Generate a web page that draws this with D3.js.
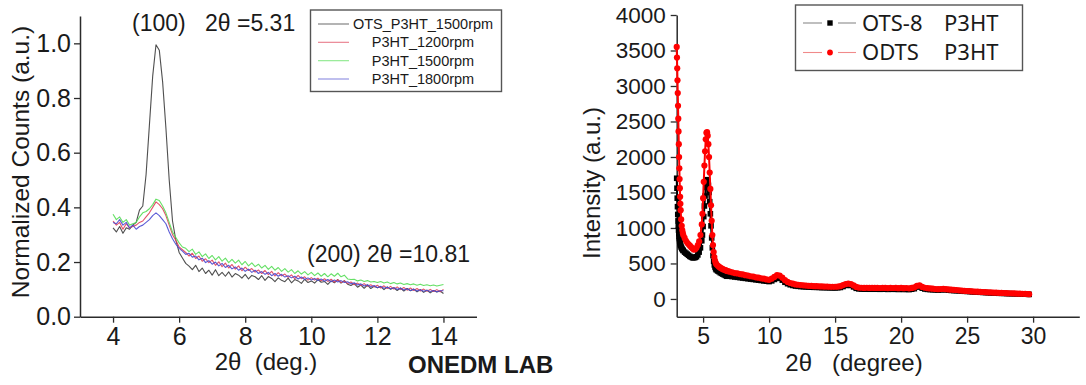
<!DOCTYPE html>
<html>
<head>
<meta charset="utf-8">
<script src="https://cdn.jsdelivr.net/npm/d3@7"></script>
<style>
  html, body { margin: 0; padding: 0; background: #fff; }
  svg { display: block; }
  text { font-family: "Liberation Sans", Arial, sans-serif; fill: #1a1a1a; }
</style>
</head>
<body>
<svg id="chart" width="1086" height="385"></svg>
<script>
// ---------------- LEFT PANEL DATA ----------------
const leftStart = 4.0, leftStep = 0.1;   // 2θ scan grid, 4.0 … 14.0
const leftSeriesNames = ["OTS_P3HT_1500rpm", "P3HT_1200rpm", "P3HT_1500rpm", "P3HT_1800rpm"];
const ots1500 = [
  0.325,0.310,0.330,0.305,0.325,0.320,0.335,0.345,0.390,0.405,
  0.520,0.700,0.880,0.995,0.975,0.860,0.690,0.500,0.350,0.280,
  0.235,0.215,0.195,0.185,0.172,0.188,0.165,0.178,0.158,0.170,
  0.152,0.172,0.150,0.162,0.148,0.164,0.145,0.158,0.152,0.141,
  0.155,0.138,0.151,0.146,0.136,0.150,0.133,0.147,0.140,0.128,
  0.142,0.133,0.128,0.141,0.124,0.136,0.131,0.122,0.137,0.125,
  0.131,0.123,0.136,0.126,0.129,0.118,0.131,0.124,0.136,0.123,
  0.132,0.119,0.114,0.121,0.108,0.116,0.104,0.116,0.103,0.111,
  0.106,0.110,0.099,0.109,0.100,0.106,0.096,0.105,0.094,0.103,
  0.095,0.101,0.091,0.099,0.089,0.097,0.087,0.096,0.090,0.094,0.085];
const p3ht1200 = [
  0.350,0.335,0.345,0.320,0.340,0.325,0.330,0.335,0.345,0.350,
  0.365,0.380,0.400,0.420,0.410,0.395,0.370,0.335,0.300,0.280,
  0.255,0.245,0.235,0.222,0.232,0.213,0.222,0.203,0.212,0.198,
  0.207,0.188,0.201,0.183,0.196,0.178,0.191,0.174,0.186,0.168,
  0.181,0.169,0.176,0.163,0.171,0.158,0.169,0.154,0.166,0.149,
  0.161,0.149,0.156,0.144,0.153,0.139,0.151,0.139,0.146,0.134,
  0.143,0.134,0.141,0.131,0.139,0.129,0.137,0.127,0.135,0.125,
  0.131,0.121,0.127,0.117,0.123,0.114,0.121,0.111,0.117,0.109,
  0.115,0.105,0.113,0.103,0.111,0.101,0.109,0.099,0.107,0.097,
  0.105,0.096,0.103,0.094,0.101,0.093,0.100,0.092,0.099,0.091,0.100];
const p3ht1500 = [
  0.375,0.355,0.365,0.345,0.355,0.335,0.340,0.345,0.365,0.380,
  0.385,0.395,0.410,0.430,0.425,0.405,0.380,0.345,0.310,0.290,
  0.270,0.255,0.250,0.238,0.247,0.228,0.237,0.220,0.230,0.213,
  0.224,0.208,0.220,0.203,0.214,0.198,0.210,0.196,0.207,0.190,
  0.202,0.186,0.197,0.183,0.192,0.178,0.188,0.173,0.184,0.170,
  0.180,0.166,0.176,0.163,0.172,0.158,0.168,0.156,0.165,0.153,
  0.162,0.150,0.160,0.148,0.158,0.146,0.157,0.148,0.159,0.146,
  0.152,0.138,0.136,0.137,0.131,0.134,0.129,0.132,0.127,0.129,
  0.125,0.129,0.123,0.127,0.121,0.125,0.120,0.123,0.118,0.121,
  0.117,0.120,0.115,0.119,0.114,0.117,0.113,0.116,0.112,0.115,0.118];
const p3ht1800 = [
  0.345,0.340,0.355,0.335,0.345,0.325,0.335,0.320,0.330,0.335,
  0.345,0.355,0.370,0.380,0.370,0.355,0.340,0.310,0.285,0.265,
  0.250,0.240,0.228,0.232,0.218,0.222,0.208,0.214,0.198,0.205,
  0.192,0.200,0.186,0.195,0.180,0.188,0.175,0.182,0.170,0.178,
  0.166,0.174,0.162,0.170,0.158,0.165,0.155,0.162,0.150,0.158,
  0.148,0.155,0.145,0.150,0.142,0.148,0.138,0.145,0.136,0.142,
  0.134,0.140,0.132,0.138,0.130,0.136,0.128,0.134,0.127,0.132,
  0.125,0.128,0.120,0.124,0.116,0.120,0.112,0.117,0.109,0.114,
  0.106,0.111,0.104,0.108,0.102,0.106,0.100,0.104,0.098,0.102,
  0.096,0.100,0.094,0.099,0.093,0.097,0.092,0.096,0.091,0.095,0.095];
const leftTicksX = [4, 6, 8, 10, 12, 14];
const leftMinorX = [3, 5, 7, 9, 11, 13, 15];
const leftTicksY = [0.0, 0.2, 0.4, 0.6, 0.8, 1.0];
const leftMinorY = [0.1, 0.3, 0.5, 0.7, 0.9, 1.1];

// ---------------- RIGHT PANEL DATA ----------------
const rightSeriesNames = ["OTS-8", "ODTS"];
const rightX = [
  3.00,3.02,3.04,3.06,3.08,3.10,3.12,3.14,3.16,3.18,3.20,3.22,3.24,3.26,3.28,3.30,3.34,3.38,3.42,3.46,3.50,
  3.6,3.7,3.8,3.9,4.0,4.1,4.2,4.3,4.4,4.5,4.6,4.7,4.8,4.9,
  4.95,5.0,5.05,5.1,5.15,5.2,5.25,5.3,5.35,5.4,5.45,5.5,5.55,5.6,5.65,5.7,5.75,5.8,5.85,5.9,5.95,6.0,
  6.1,6.2,6.3,6.4,6.5,6.6,6.7,6.8,6.9,7.0,
  7.2,7.4,7.6,7.8,8.0,8.2,8.4,8.6,8.8,9.0,9.2,9.4,9.6,9.8,10.0,10.2,10.4,10.6,10.8,11.0,
  11.2,11.4,11.6,11.8,12.0,12.2,12.4,12.6,12.8,13.0,13.2,13.4,13.6,13.8,14.0,14.2,14.4,14.6,14.8,15.0,
  15.2,15.4,15.6,15.8,16.0,16.2,16.4,16.6,16.8,17.0,17.2,17.4,17.6,17.8,18.0,18.2,18.4,18.6,18.8,19.0,
  19.2,19.4,19.6,19.8,20.0,20.2,20.4,20.6,20.8,21.0,21.2,21.4,21.6,21.8,22.0,22.2,22.4,22.6,22.8,23.0,
  23.2,23.4,23.6,23.8,24.0,24.2,24.4,24.6,24.8,25.0,25.2,25.4,25.6,25.8,26.0,26.2,26.4,26.6,26.8,27.0,
  27.2,27.4,27.6,27.8,28.0,28.2,28.4,28.6,28.8,29.0,29.2,29.4,29.6,29.7];
const odtsP3ht = [
  3550,3400,3250,3080,2900,2720,2540,2360,2180,2000,1840,1690,1560,1440,1340,1250,1120,1030,970,930,900,
  860,820,790,770,750,730,710,695,700,720,760,810,900,1050,
  1200,1420,1650,1880,2080,2250,2340,2350,2300,2180,2000,1780,1550,1320,1100,900,760,660,590,540,510,490,
  470,455,440,430,420,410,405,395,390,385,
  375,365,360,350,345,335,330,320,315,305,300,290,285,275,270,285,310,335,330,300,
  265,240,225,215,205,200,195,192,188,185,183,180,180,178,176,175,174,172,172,172,
  175,180,195,210,215,210,190,170,160,158,156,158,155,157,155,156,154,157,155,153,
  156,154,155,152,155,152,154,150,155,162,185,190,170,158,152,148,145,140,138,140,
  142,138,134,130,128,126,122,118,114,112,110,106,104,102,100,98,96,94,92,90,
  88,86,85,84,82,80,79,78,76,75,73,72,70,68];
const ots8P3ht = [
  1700,1560,1420,1300,1190,1100,1030,970,920,880,850,820,800,780,765,750,730,715,700,690,680,
  660,645,630,615,600,590,580,580,585,595,620,660,720,820,
  900,1020,1160,1310,1450,1570,1650,1680,1660,1600,1500,1370,1200,1030,860,720,610,530,480,450,425,410,
  395,385,370,360,350,340,330,320,325,320,
  315,310,305,300,295,290,285,280,275,270,265,260,255,250,245,255,275,295,290,265,
  235,215,200,190,182,178,175,172,170,168,166,164,164,162,160,160,158,158,156,156,
  158,162,175,190,195,190,170,150,142,140,138,140,137,139,137,138,136,139,137,135,
  138,136,137,134,137,134,136,132,137,145,170,172,152,140,135,132,130,128,125,128,
  132,128,124,120,118,116,114,112,108,106,104,100,98,96,94,92,90,88,86,84,
  82,80,79,78,76,75,74,73,72,70,69,68,66,64];
const rightTicksX = [5, 10, 15, 20, 25, 30];
const rightMinorX = [7.5, 12.5, 17.5, 22.5, 27.5, 32.5];
const rightTicksY = [0, 500, 1000, 1500, 2000, 2500, 3000, 3500, 4000];
const rightMinorY = [-250, 250, 750, 1250, 1750, 2250, 2750, 3250, 3750];

// ---------------- DRAWING ----------------
const svg = d3.select("#chart");
const axisColor = "#2b2b2b";

function styleAxis(g, fontSize) {
  g.select(".domain").attr("stroke", axisColor).attr("stroke-width", 1.5);
  g.selectAll(".tick line").attr("stroke", axisColor).attr("stroke-width", 1.3);
  g.selectAll(".tick text").attr("fill", "#1a1a1a")
    .style("font-size", fontSize + "px")
    .style("font-family", '"Liberation Sans", Arial, sans-serif');
}

// LEFT
const xL = d3.scaleLinear().domain([3, 15]).range([80, 476.5]);
const yL = d3.scaleLinear().domain([0, 1.1]).range([316.7, 16]);

const gLx = svg.append("g").attr("transform", `translate(0,${yL(0)})`);
gLx.call(d3.axisBottom(xL).tickValues(leftMinorX).tickFormat("").tickSize(4).tickSizeOuter(0));
gLx.call(d3.axisBottom(xL).tickValues(leftTicksX).tickFormat(d3.format("d")).tickSize(6).tickPadding(5).tickSizeOuter(0));
styleAxis(gLx, 25);

const gLy = svg.append("g").attr("transform", `translate(${xL(3)},0)`);
gLy.call(d3.axisLeft(yL).tickValues(leftMinorY).tickFormat("").tickSize(4).tickSizeOuter(0));
gLy.call(d3.axisLeft(yL).tickValues(leftTicksY).tickFormat(d3.format(".1f")).tickSize(6).tickPadding(3).tickSizeOuter(0));
styleAxis(gLy, 25);

const leftColors = ["#3c3c3c", "#e0405a", "#55dd55", "#4a4ad0"];
const leftData = [ots1500, p3ht1200, p3ht1500, p3ht1800];
const lineL = d3.line().x((d, i) => xL(leftStart + i * leftStep)).y(d => yL(d));
leftData.forEach((s, k) => {
  svg.append("path").datum(s).attr("d", lineL)
    .attr("fill", "none").attr("stroke", leftColors[k]).attr("stroke-width", 1.1)
    .attr("stroke-opacity", 0.9).attr("stroke-linejoin", "round");
});

// left labels
svg.append("text").attr("transform", `translate(20,162) rotate(-90)`)
  .attr("text-anchor", "middle").attr("dy", "0.35em").style("font-size", "24.5px")
  .text("Normalized Counts (a.u.)");
svg.append("text").attr("x", 266).attr("y", 370).attr("text-anchor", "middle")
  .style("font-size", "24px").style("white-space", "pre").text("2θ  (deg.)");
svg.append("text").attr("x", 132).attr("y", 31).style("font-size", "23px").text("(100)");
svg.append("text").attr("x", 205).attr("y", 31).style("font-size", "23px").text("2θ =5.31");
svg.append("text").attr("x", 307).attr("y", 262).style("font-size", "23px").text("(200) 2θ =10.81");
svg.append("text").attr("x", 408).attr("y", 373).style("font-size", "24px")
  .style("font-weight", "bold").text("ONEDM LAB");

// left legend
svg.append("rect").attr("x", 310.5).attr("y", 10).attr("width", 191).attr("height", 81.5)
  .attr("fill", "#fff").attr("stroke", "#555").attr("stroke-width", 1.4);
const legYL = [24, 42.3, 60.7, 79];
const legColorsL = ["#777777", "#e87a8a", "#8ae88a", "#8a8ae0"];
leftSeriesNames.forEach((name, k) => {
  svg.append("line").attr("x1", 318).attr("x2", 349).attr("y1", legYL[k]).attr("y2", legYL[k])
    .attr("stroke", legColorsL[k]).attr("stroke-width", 1.1);
  svg.append("text").attr("x", 423).attr("y", legYL[k]).attr("dy", "0.35em")
    .attr("text-anchor", "middle").style("font-size", "14.5px").text(name);
});

// RIGHT
const xR = d3.scaleLinear().domain([3, 33.5]).range([676.7, 1079.3]);
const yR = d3.scaleLinear().domain([-250, 4000]).range([316.7, 15]);

const gRx = svg.append("g").attr("transform", `translate(0,${yR(-250)})`);
gRx.call(d3.axisBottom(xR).tickValues(rightMinorX).tickFormat("").tickSize(4).tickSizeOuter(0));
gRx.call(d3.axisBottom(xR).tickValues(rightTicksX).tickFormat(d3.format("d")).tickSize(6).tickPadding(5).tickSizeOuter(0));
styleAxis(gRx, 23);

const gRy = svg.append("g").attr("transform", `translate(${xR(3)},0)`);
gRy.call(d3.axisLeft(yR).tickValues(rightMinorY).tickFormat("").tickSize(4).tickSizeOuter(0));
gRy.call(d3.axisLeft(yR).tickValues(rightTicksY).tickFormat(d3.format("d")).tickSize(6).tickPadding(5).tickSizeOuter(0));
styleAxis(gRy, 22.5);

const lineR = d3.line().x((d, i) => xR(rightX[i])).y(d => yR(d));
// black OTS-8
svg.append("path").datum(ots8P3ht).attr("d", lineR).attr("fill", "none")
  .attr("stroke", "#000").attr("stroke-width", 2);
svg.append("g").selectAll("rect").data(ots8P3ht).join("rect")
  .attr("x", (d, i) => xR(rightX[i]) - 2.8).attr("y", d => yR(d) - 2.8)
  .attr("width", 5.6).attr("height", 5.6).attr("fill", "#000");
// red ODTS
svg.append("path").datum(odtsP3ht).attr("d", lineR).attr("fill", "none")
  .attr("stroke", "#ff0000").attr("stroke-width", 2);
svg.append("g").selectAll("circle").data(odtsP3ht).join("circle")
  .attr("cx", (d, i) => xR(rightX[i])).attr("cy", d => yR(d))
  .attr("r", 3.1).attr("fill", "#ff0000");

// right labels
svg.append("text").attr("transform", `translate(592,183) rotate(-90)`)
  .attr("text-anchor", "middle").attr("dy", "0.35em").style("font-size", "24px")
  .text("Intensity (a.u.)");
svg.append("text").attr("x", 854).attr("y", 371).attr("text-anchor", "middle")
  .style("font-size", "24px").style("white-space", "pre").text("2θ   (degree)");

// right legend
svg.append("rect").attr("x", 795.5).attr("y", 5).attr("width", 227).attr("height", 65.5)
  .attr("fill", "#fff").attr("stroke", "#555").attr("stroke-width", 1.4);
const legYR = [23, 52.5];
const legLineR = ["#8a8a8a", "#f08a8a"];
const legMarkR = ["#000", "#ff0000"];
rightSeriesNames.forEach((name, k) => {
  const y = legYR[k];
  svg.append("line").attr("x1", 803).attr("x2", 822).attr("y1", y).attr("y2", y)
    .attr("stroke", legLineR[k]).attr("stroke-width", 1.1);
  svg.append("line").attr("x1", 838).attr("x2", 856).attr("y1", y).attr("y2", y)
    .attr("stroke", legLineR[k]).attr("stroke-width", 1.1);
  if (k === 0) {
    svg.append("rect").attr("x", 827.3).attr("y", y - 2.7).attr("width", 5.4).attr("height", 5.4).attr("fill", legMarkR[k]);
  } else {
    svg.append("circle").attr("cx", 830).attr("cy", y).attr("r", 2.9).attr("fill", legMarkR[k]);
  }
  const t = svg.append("text").attr("y", y).attr("dy", "0.36em")
    .style("font-family", '"Noto Sans", "Open Sans", sans-serif').style("font-size", "22px");
  t.append("tspan").attr("x", 862).text(name);
  t.append("tspan").attr("x", 944).text("P3HT");
});
</script>
</body>
</html>
